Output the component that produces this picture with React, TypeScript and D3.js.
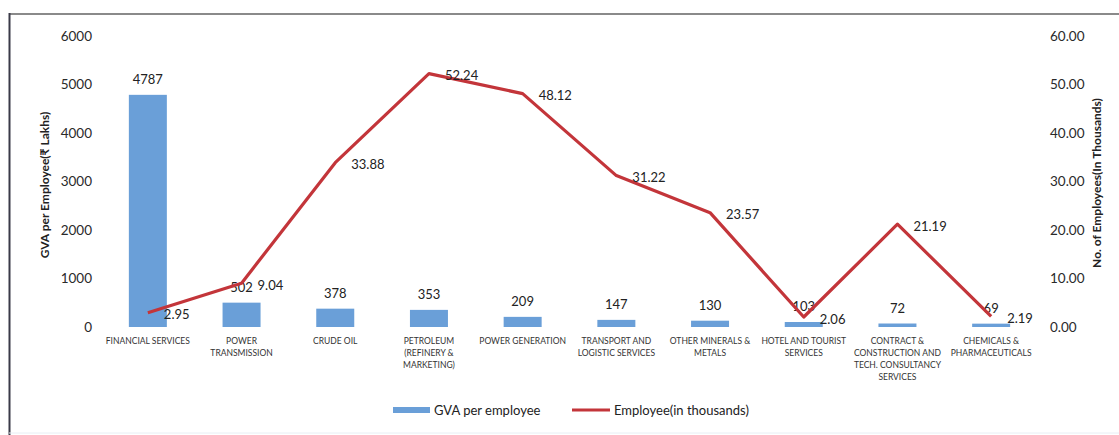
import React from "react";
import * as d3 from "d3";

const categories: string[][] = [
  ["FINANCIAL SERVICES"],
  ["POWER", "TRANSMISSION"],
  ["CRUDE OIL"],
  ["PETROLEUM", "(REFINERY &", "MARKETING)"],
  ["POWER GENERATION"],
  ["TRANSPORT AND", "LOGISTIC SERVICES"],
  ["OTHER MINERALS &", "METALS"],
  ["HOTEL AND TOURIST", "SERVICES"],
  ["CONTRACT &", "CONSTRUCTION AND", "TECH. CONSULTANCY", "SERVICES"],
  ["CHEMICALS &", "PHARMACEUTICALS"],
];
const gva: number[] = [4787, 502, 378, 353, 209, 147, 130, 103, 72, 69];
const employees: number[] = [2.95, 9.04, 33.88, 52.24, 48.12, 31.22, 23.57, 2.06, 21.19, 2.19];
const leftTicks: number[] = [0, 1000, 2000, 3000, 4000, 5000, 6000];
const rightTicks: number[] = [0, 10, 20, 30, 40, 50, 60];

const W = 1119;
const H = 435;
const FONT = "Lato, 'Open Sans', sans-serif";
const BAR = "#6a9fd8";
const LINE = "#c3353a";

export default function App() {
  const idx = categories.map((_, i) => i);
  const x = d3.scaleBand<number>().domain(idx).range([101, 1038]).paddingInner(0).paddingOuter(0);
  const yL = d3.scaleLinear().domain([0, 6000]).range([327, 36]);
  const yR = d3.scaleLinear().domain([0, 60]).range([327, 36]);
  const cx = (i: number) => (x(i) as number) + x.bandwidth() / 2;
  const barW = 38;
  const line = d3
    .line<number>()
    .x((_, i) => cx(i))
    .y((d) => yR(d));

  return (
    <svg width={W} height={H} style={{ position: "absolute", left: 0, top: 0, background: "#fff" }} fontFamily={FONT}>
      <rect x={0} y={0} width={W} height={H} fill="#fff" />
      <line x1={9} y1={14} x2={W} y2={14} stroke="#8a8a8a" strokeWidth={2} />
      <line x1={9.5} y1={13} x2={9.5} y2={H} stroke="#3a3a48" strokeWidth={2} />
      <line x1={9} y1={433} x2={W} y2={433} stroke="#e8eef4" strokeWidth={1} />

      {leftTicks.map((t) => (
        <text key={"l" + t} x={92} y={yL(t)} dy="0.35em" textAnchor="end" fontSize={13.5} fill="#2a2a2a">
          {t}
        </text>
      ))}
      {rightTicks.map((t) => (
        <text key={"r" + t} x={1050} y={yR(t)} dy="0.35em" textAnchor="start" fontSize={13.5} fill="#2a2a2a">
          {t.toFixed(2)}
        </text>
      ))}
      <text
        transform={`translate(49,185) rotate(-90)`}
        textAnchor="middle"
        fontSize={12}
        fontWeight="bold"
        fill="#222"
      >
        GVA per Employee(₹ Lakhs)
      </text>
      <text
        transform={`translate(1101,183) rotate(-90)`}
        textAnchor="middle"
        fontSize={12}
        fontWeight="bold"
        fill="#222"
      >
        No. of Employees(In Thousands)
      </text>

      {gva.map((v, i) => (
        <rect key={"b" + i} x={cx(i) - barW / 2} y={yL(v)} width={barW} height={yL(0) - yL(v)} fill={BAR} />
      ))}
      {gva.map((v, i) => (
        <text key={"bl" + i} x={cx(i)} y={yL(v) - 11} textAnchor="middle" fontSize={13} fill="#222">
          {v}
        </text>
      ))}

      <path d={line(employees) || ""} fill="none" stroke={LINE} strokeWidth={3.2} strokeLinejoin="round" />
      {employees.map((v, i) => (
        <text key={"ll" + i} x={cx(i) + 16} y={yR(v) + 2} dy="0.35em" textAnchor="start" fontSize={13} fill="#222">
          {v.toFixed(2)}
        </text>
      ))}

      {categories.map((lines, i) => (
        <text key={"c" + i} x={cx(i)} y={344} textAnchor="middle" fontSize={8.5} fill="#333">
          {lines.map((l, j) => (
            <tspan key={j} x={cx(i)} dy={j === 0 ? 0 : 12}>
              {l}
            </tspan>
          ))}
        </text>
      ))}

      <rect x={393} y={407} width={37} height={6} fill={BAR} />
      <text x={434} y={410} dy="0.35em" fontSize={13} fill="#222">
        GVA per employee
      </text>
      <line x1={572} y1={410} x2={610} y2={410} stroke={LINE} strokeWidth={3} />
      <text x={614} y={410} dy="0.35em" fontSize={13} fill="#222">
        Employee(in thousands)
      </text>
    </svg>
  );
}
